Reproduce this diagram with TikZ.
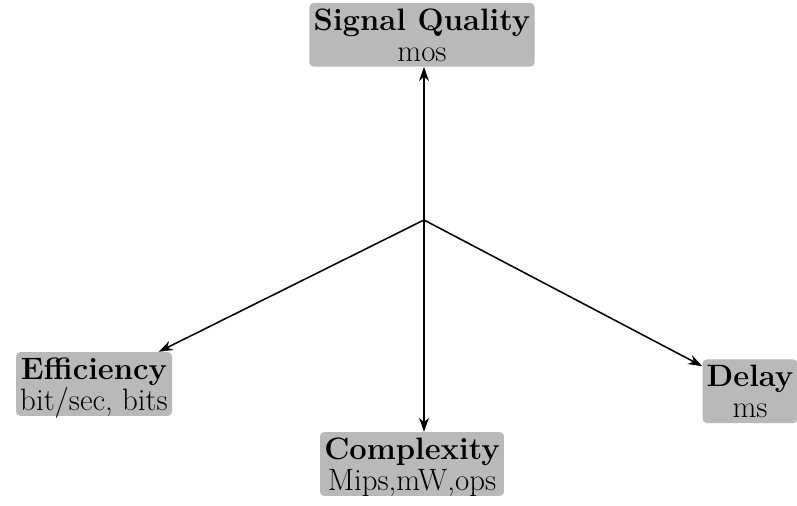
\documentclass[tikz,border=0pt]{standalone}
\usepackage{fix-cm}
\usepackage{amsmath}
\usepackage{tikz}
\usetikzlibrary{arrows.meta}

\begin{document}
\begin{tikzpicture}[
  metric/.style={fill=gray!55, rounded corners=3pt, inner xsep=3pt, inner ysep=4pt,
    align=center, font=\fontsize{22}{23}\selectfont, text depth=0pt},
  axis/.style={line width=1.1pt, -{Stealth[length=10pt,width=7pt]}}]
\useasboundingbox (0,0) rectangle (19.925,12.65);
\clip (0,0) rectangle (19.925,12.65);
\coordinate (c) at (10.6,7.15);
\node[metric] (sq) at (10.55,11.78) {\textbf{Signal Quality}\\[-1pt]mos};
\node[metric] (eff) at (2.35,3.05) {\textbf{Efficiency}\\[-1pt]bit/sec, bits};
\node[metric] (cmp) at (10.3,1.05) {\textbf{Complexity}\\[-1pt]Mips,mW,ops};
\node[metric] (del) at (18.75,2.87) {\textbf{Delay}\\[-1pt]ms};
\draw[axis] (c) -- (sq.south -| c);
\draw[axis] (c) -- (eff);
\draw[axis] (c) -- (cmp.north -| c);
\draw[axis] (c) -- (del);
\end{tikzpicture}
\end{document}
